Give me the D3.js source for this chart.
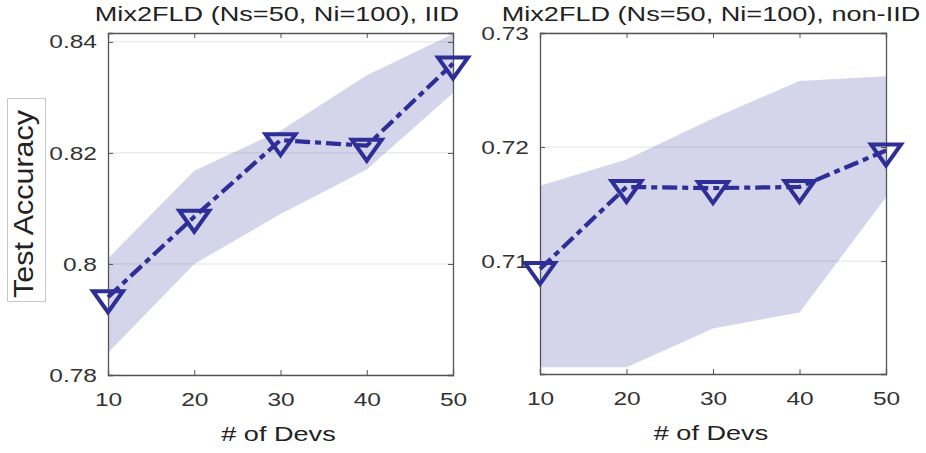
<!DOCTYPE html>
<html>
<head>
<meta charset="utf-8">
<script src="https://cdn.jsdelivr.net/npm/d3@7"></script>
<style>
  body { margin: 0; background: #fff; }
  svg { display: block; font-family: "Liberation Sans", Arial, sans-serif; }
</style>
</head>
<body>
<script>
// data
var devs = [10, 20, 30, 40, 50];
var xTicks = [10, 20, 30, 40, 50];

var iidMean = [0.7940, 0.8085, 0.8223, 0.8213, 0.8361];
var iidLow  = [0.7840, 0.8000, 0.8090, 0.8170, 0.8308];
var iidHigh = [0.8010, 0.8168, 0.8240, 0.8340, 0.8414];
var iidTicks = [0.78, 0.80, 0.82, 0.84];

var nonIidMean = [0.7093, 0.7165, 0.7164, 0.7165, 0.7197];
var nonIidLow  = [0.7007, 0.7007, 0.7041, 0.7055, 0.7156];
var nonIidHigh = [0.7166, 0.7189, 0.7225, 0.7258, 0.7262];
var nonIidTicks = [0.71, 0.72, 0.73];

var width = 926, height = 453;
var lineColor = "#2d2e96";
var stretch = 1.29;   // the source picture is widened horizontally

var svg = d3.select("body").append("svg")
  .attr("width", width)
  .attr("height", height);

// widen text the way the reference is widened
function widen(sel) {
  sel.each(function() {
    var len = this.getComputedTextLength();
    d3.select(this)
      .attr("textLength", len * stretch)
      .attr("lengthAdjust", "spacingAndGlyphs");
  });
}

function drawPanel(p) {
  var x = d3.scaleLinear().domain([10, 50]).range([p.left, p.right]);
  var y = d3.scaleLinear().domain(p.yDomain).range([p.bottom, p.top]);

  var g = svg.append("g");

  // grid
  g.selectAll(".grid")
    .data(p.yTicks)
    .enter()
    .append("line")
    .attr("x1", p.left).attr("x2", p.right)
    .attr("y1", d => y(d)).attr("y2", d => y(d))
    .attr("stroke", "#e3e3e3")
    .attr("stroke-width", 1);

  // shaded band
  var rows = devs.map((d, i) => ({ x: d, lo: p.low[i], hi: p.high[i], m: p.mean[i] }));
  var area = d3.area()
    .x(d => x(d.x))
    .y0(d => y(d.lo))
    .y1(d => y(d.hi));
  g.append("path")
    .datum(rows)
    .attr("d", area)
    .attr("fill", "#3535a0")
    .attr("fill-opacity", 0.21);

  // axes (box style, ticks inside)
  var tickLen = 5;
  g.append("g")
    .attr("transform", `translate(0, ${p.bottom})`)
    .call(d3.axisBottom(x).tickValues(xTicks).tickSize(-tickLen).tickPadding(18).tickFormat(d3.format("d")));
  g.append("g")
    .attr("transform", `translate(0, ${p.top})`)
    .call(d3.axisTop(x).tickValues(xTicks).tickSize(-tickLen).tickFormat(""));
  g.append("g")
    .attr("transform", `translate(${p.left}, 0)`)
    .call(d3.axisLeft(y).tickValues(p.yTicks).tickSize(-tickLen).tickPadding(11).tickFormat(d => d3.format("")(+d.toFixed(2))));
  g.append("g")
    .attr("transform", `translate(${p.right}, 0)`)
    .call(d3.axisRight(y).tickValues(p.yTicks).tickSize(-tickLen).tickFormat(""));

  g.selectAll(".domain")
    .attr("stroke", "#555")
    .attr("stroke-width", 1.3);
  g.selectAll(".tick line")
    .attr("stroke", "#555");
  g.selectAll(".tick text")
    .attr("font-size", 19)
    .attr("font-family", "Liberation Sans, Arial, sans-serif")
    .attr("fill", "#333")
    .call(widen);

  // mean line
  var line = d3.line()
    .x(d => x(d.x))
    .y(d => y(d.m));
  g.append("path")
    .datum(rows)
    .attr("d", line)
    .attr("fill", "none")
    .attr("stroke", lineColor)
    .attr("stroke-width", 4.2)
    .attr("stroke-dasharray", "15,5,6,5");

  // downward triangle markers
  g.selectAll(".marker")
    .data(rows)
    .enter()
    .append("path")
    .attr("transform", d => `translate(${x(d.x)}, ${y(d.m)})`)
    .attr("d", "M-15,-6L15,-6L0,15Z")
    .attr("fill", "none")
    .attr("stroke", lineColor)
    .attr("stroke-width", 4)
    .attr("stroke-linejoin", "miter");

  // title
  svg.append("text")
    .attr("x", p.titleX)
    .attr("y", 21)
    .attr("text-anchor", "middle")
    .attr("font-size", 21)
    .attr("fill", "#222")
    .text(p.title)
    .call(widen);

  // x label
  svg.append("text")
    .attr("x", (p.left + p.right) / 2 - 2)
    .attr("y", p.bottom + 66)
    .attr("text-anchor", "middle")
    .attr("font-size", 21)
    .attr("fill", "#222")
    .text("# of Devs")
    .call(widen);
}

drawPanel({
  left: 108, right: 453, top: 33, bottom: 375,
  yDomain: [0.78, 0.8416], yTicks: iidTicks,
  mean: iidMean, low: iidLow, high: iidHigh,
  title: "Mix2FLD (Ns=50, Ni=100), IID", titleX: 277
});

drawPanel({
  left: 540, right: 886, top: 33, bottom: 374,
  yDomain: [0.7001, 0.73], yTicks: nonIidTicks,
  mean: nonIidMean, low: nonIidLow, high: nonIidHigh,
  title: "Mix2FLD (Ns=50, Ni=100), non-IID", titleX: 711
});

// y label in its little box
svg.append("rect")
  .attr("x", 7.5).attr("y", 98.5)
  .attr("width", 38).attr("height", 203)
  .attr("fill", "none")
  .attr("stroke", "#c8c8c8")
  .attr("stroke-width", 1);

svg.append("text")
  .attr("transform", "translate(33, 204) rotate(-90)")
  .attr("text-anchor", "middle")
  .attr("font-size", 27)
  .attr("fill", "#222")
  .attr("textLength", 188)
  .attr("lengthAdjust", "spacingAndGlyphs")
  .text("Test Accuracy");
</script>
</body>
</html>
